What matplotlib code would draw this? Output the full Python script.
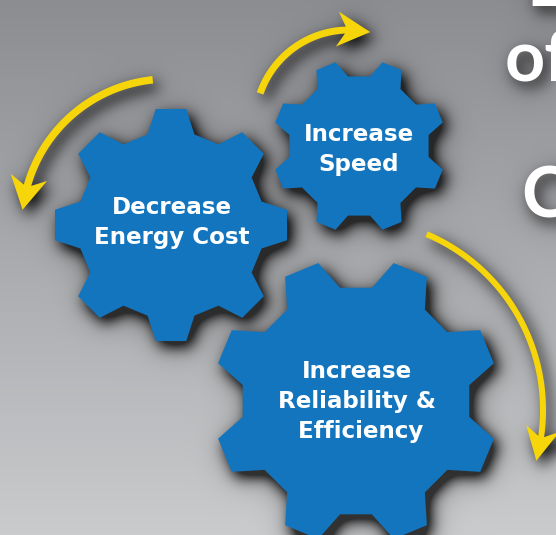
import numpy as np
import matplotlib
matplotlib.use("Agg")
import matplotlib.pyplot as plt
from matplotlib.patches import Polygon
from matplotlib.path import Path
from matplotlib.textpath import TextPath
from matplotlib.font_manager import FontProperties

# texts on the gears (one list per gear, one entry per line)
gear_labels = [["Decrease", "Energy Cost"],
               ["Increase", "Speed"],
               ["Increase", "Reliability &", " Efficiency"]]
# pieces of the title that stick in from the right edge
side_words = ["E", "of", "C"]

W, H = 556, 535

# layout (pixels, y goes down)
gear_cx = [171, 359, 356]
gear_cy = [225, 146, 401]
gear_R = [117, 87, 143]
gear_rot = [0, 22.5, 22.5]
gear_tip = [7.5, 6.8, 7.2]
gear_base = [14.5, 13.5, 14.5]
gear_frac = [0.80, 0.81, 0.80]
label_x = [172, 359, 357]
label_y0 = [214, 141, 378]
line_gap = 30

arr_cx = [168, 349, 352]
arr_cy = [225, 124, 410]
arr_r = [146, 94, 191]
arr_a0 = [96, 161, 67]
arr_a1 = [165, 91, -8.5]
arr_w = [7.5, 7, 6]
arr_hw = [37, 35, 34]

side_x = [526, 505, 521.5]
side_y = [6, 81, 217]
side_px = 70

BLUE = "#1375be"
YELLOW = "#f6d60b"


def gear_poly(cx, cy, R, rot, tip, base, frac, n=8):
    pts = []
    for k in range(n):
        c = rot + k * 360 / n
        for a, r in [(c - base, R * frac), (c - tip, R), (c + tip, R), (c + base, R * frac)]:
            a = np.radians(a)
            pts.append((cx + r * np.sin(a), cy - r * np.cos(a)))
    return np.array(pts)


def arrow_polys(cx, cy, r, a0, a1, w, hw, hl=33, notch=10):
    sgn = 1 if a1 > a0 else -1
    a_end = a1 + sgn * 1.5
    t = np.radians(np.linspace(a0, a_end, 80))
    outer = np.column_stack([cx + (r + w / 2) * np.cos(t), cy - (r + w / 2) * np.sin(t)])
    inner = np.column_stack([cx + (r - w / 2) * np.cos(t), cy - (r - w / 2) * np.sin(t)])
    shaft = np.vstack([outer, inner[::-1]])
    an = np.radians(a1)
    N = np.array([cx + r * np.cos(an), cy - r * np.sin(an)])
    ad = an + sgn * 10 / r
    d = sgn * np.array([-np.sin(ad), -np.cos(ad)])
    nrm = np.array([-d[1], d[0]])
    tip = N + d * (hl - notch)
    B = N - d * notch
    head = np.array([tip, B + nrm * hw / 2, N, B - nrm * hw / 2])
    return shaft, head


def blur(a, s):
    r = int(3 * s)
    x = np.arange(-r, r + 1)
    k = np.exp(-x ** 2 / (2 * s * s))
    k /= k.sum()
    a = np.pad(a, r, mode="edge")
    a = np.apply_along_axis(lambda v: np.convolve(v, k, mode="valid"), 0, a)
    a = np.apply_along_axis(lambda v: np.convolve(v, k, mode="valid"), 1, a)
    return a


gears = [gear_poly(gear_cx[i], gear_cy[i], gear_R[i], gear_rot[i], gear_tip[i],
                   gear_base[i], gear_frac[i]) for i in range(3)]
arrows = [arrow_polys(arr_cx[i], arr_cy[i], arr_r[i], arr_a0[i], arr_a1[i],
                      arr_w[i], arr_hw[i]) for i in range(3)]

big_fp = FontProperties(family=["Lato", "DejaVu Sans"], weight="bold")
text_polys = []
for s, x0, y0 in zip(side_words, side_x, side_y):
    tp = TextPath((0, 0), s, size=side_px, prop=big_fp)
    for p in tp.to_polygons():
        p = np.asarray(p)
        text_polys.append(np.column_stack([x0 + p[:, 0], y0 - p[:, 1]]))

# shadow mask, shifted down-right
X, Y = np.meshgrid(np.arange(W) + 0.5, np.arange(H) + 0.5)
pts = np.column_stack([X.ravel(), Y.ravel()])
dx, dy = 5, 6
sp = pts - [dx, dy]
mask = np.zeros(len(pts), bool)
for g in gears:
    mask |= Path(g).contains_points(sp)
for sh, hd in arrows:
    mask |= Path(sh).contains_points(sp)
    mask |= Path(hd).contains_points(sp)
tmask = np.zeros(len(pts), bool)
for p in text_polys:
    tmask ^= Path(p).contains_points(sp)
mask = mask.reshape(H, W).astype(float)
tmask = tmask.reshape(H, W).astype(float)
shadow = 1.2 * blur(mask, 7) + 0.5 * blur(mask, 16)
shadow += 0.9 * blur(tmask, 7) + 0.5 * blur(tmask, 16)
shadow = np.clip(shadow, 0, 1)

# gray background, darker at the top
top = np.array([140, 141, 145]) / 255
bot = np.array([202, 203, 205]) / 255
f = (np.arange(H) / (H - 1))[:, None, None]
bg = top + (bot - top) * f
bg = np.repeat(bg, W, axis=1)
bg = bg * (1 - 0.75 * shadow[:, :, None])

fig = plt.figure(figsize=(W / 100, H / 100), dpi=100)
ax = fig.add_axes([0, 0, 1, 1])
ax.imshow(bg, extent=(0, W, H, 0), interpolation="bilinear", aspect="auto")

for g in gears:
    ax.add_patch(Polygon(g, closed=True, facecolor=BLUE, edgecolor="none"))
for sh, hd in arrows:
    ax.add_patch(Polygon(sh, closed=True, facecolor=YELLOW, edgecolor="none"))
    ax.add_patch(Polygon(hd, closed=True, facecolor=YELLOW, edgecolor="none"))

for i, lines in enumerate(gear_labels):
    for j, s in enumerate(lines):
        ax.text(label_x[i], label_y0[i] + j * line_gap, s, color="white",
                fontsize=23 * 0.72, fontweight="bold", family="DejaVu Sans",
                ha="center", va="baseline")

for s, x0, y0 in zip(side_words, side_x, side_y):
    ax.text(x0, y0, s, color="white", fontsize=side_px * 0.72,
            fontproperties=big_fp, ha="left", va="baseline")

ax.set_xlim(0, W)
ax.set_ylim(H, 0)
ax.axis("off")
fig.savefig("out.png", dpi=100)
